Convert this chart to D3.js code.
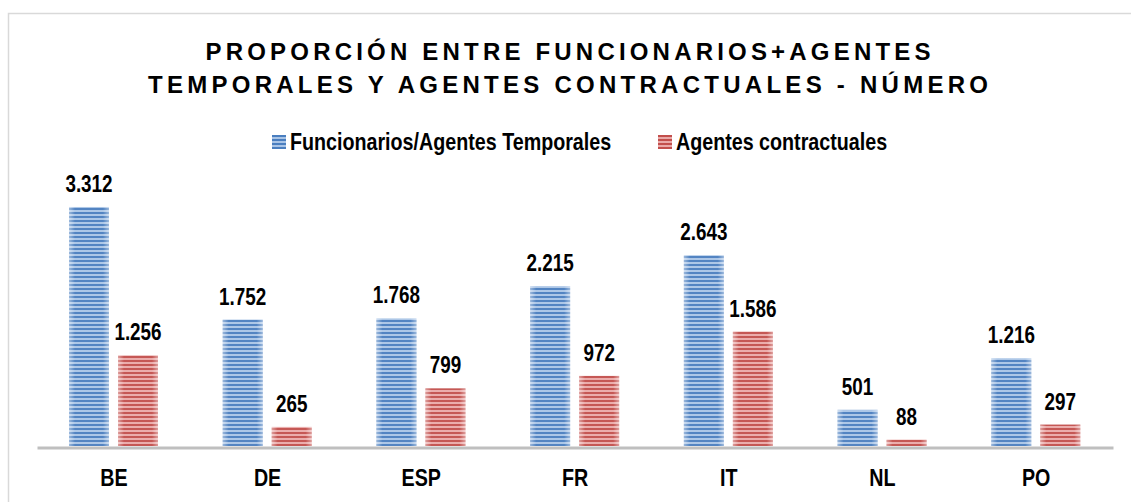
<!doctype html>
<html lang=es>

<head>
  <meta charset=utf-8>
  <title>Proporción entre funcionarios y agentes</title>
  <style>
    body { margin: 0; background: #fff; }
    svg { display: block; }
    text { font-family: "Liberation Sans", Arial, sans-serif; font-weight: bold; fill: #000; }
  </style>
</head>

<body>
  <svg></svg>
  <script src="https://cdn.jsdelivr.net/npm/d3@7"></script>
  <script>
    var width = 1131;
    var height = 502;

    // data
    var categories = ["BE", "DE", "ESP", "FR", "IT", "NL", "PO"];
    var seriesNames = ["Funcionarios/Agentes Temporales", "Agentes contractuales"];
    var funcionarios = [3312, 1752, 1768, 2215, 2643, 501, 1216];
    var contractuales = [1256, 265, 799, 972, 1586, 88, 297];
    var titleLines = ["PROPORCIÓN ENTRE FUNCIONARIOS+AGENTES", "TEMPORALES Y AGENTES CONTRACTUALES - NÚMERO"];

    var series = [funcionarios, contractuales];
    var fmt = d3.formatLocale({ decimal: ",", thousands: ".", grouping: [3], currency: ["", ""] }).format(",d");

    // the original uses a narrow bold face; squeeze Liberation Sans to match
    function narrow(sel, k) {
      sel.each(function () {
        var len = this.getComputedTextLength();
        d3.select(this)
          .attr("textLength", len * k)
          .attr("lengthAdjust", "spacingAndGlyphs");
      });
    }

    var svg = d3.select("svg")
      .attr("width", width)
      .attr("height", height);

    var defs = svg.append("defs");

    // striped fills like the Excel "narrow horizontal" pattern
    var fills = [
      { id: "blue", dark: "#4a7ebf", light: "#a9c4e6" },
      { id: "red", dark: "#c24f4c", light: "#eaa9a8" }
    ];
    fills.forEach(function (f) {
      var p = defs.append("pattern")
        .attr("id", "pat-" + f.id)
        .attr("patternUnits", "userSpaceOnUse")
        .attr("width", 8)
        .attr("height", 4);
      p.append("rect").attr("width", 8).attr("height", 4).attr("fill", f.light);
      p.append("rect").attr("width", 8).attr("height", 2).attr("fill", f.dark);
    });
    var shine = defs.append("linearGradient")
      .attr("id", "shine")
      .attr("x1", 0).attr("x2", 1).attr("y1", 0).attr("y2", 0);
    shine.append("stop").attr("offset", "0%").attr("stop-color", "#fff").attr("stop-opacity", 0.45);
    shine.append("stop").attr("offset", "15%").attr("stop-color", "#fff").attr("stop-opacity", 0.05);
    shine.append("stop").attr("offset", "85%").attr("stop-color", "#fff").attr("stop-opacity", 0.05);
    shine.append("stop").attr("offset", "100%").attr("stop-color", "#fff").attr("stop-opacity", 0.45);

    // chart frame
    svg.append("rect")
      .attr("x", 8.5).attr("y", 13.5)
      .attr("width", 1200).attr("height", 600)
      .attr("fill", "none")
      .attr("stroke", "#d9d9d9")
      .attr("stroke-width", 1.5);

    var x0 = d3.scaleBand()
      .domain(categories)
      .range([37, 1113]);

    var x1 = d3.scaleBand()
      .domain(d3.range(series.length))
      .range([32, 121])
      .paddingInner(0.184);

    var y = d3.scaleLinear()
      .domain([0, 3500])
      .range([446, 193.4]);

    // title
    svg.append("g").selectAll("text")
      .data(titleLines)
      .join("text")
      .attr("x", 568)
      .attr("y", function (d, i) { return 60 + i * 33; })
      .attr("text-anchor", "middle")
      .attr("font-size", 24)
      .attr("textLength", function (d, i) { return i === 0 ? 725 : 840; })
      .attr("lengthAdjust", "spacing")
      .text(function (d) { return d; });

    // legend
    var legendX = [272, 658];
    var legend = svg.append("g").selectAll("g")
      .data(seriesNames)
      .join("g")
      .attr("transform", function (d, i) { return "translate(" + legendX[i] + ",135)"; });
    legend.append("rect")
      .attr("width", 14).attr("height", 14)
      .attr("fill", function (d, i) { return "url(#pat-" + fills[i].id + ")"; });
    legend.append("text")
      .attr("x", 18).attr("y", 15)
      .attr("font-size", 24)
      .text(function (d) { return d; })
      .call(narrow, 0.82);

    // bars
    var groups = svg.append("g").selectAll("g")
      .data(categories)
      .join("g")
      .attr("transform", function (d) { return "translate(" + x0(d) + ",0)"; });

    var bars = groups.selectAll("g")
      .data(function (d, ci) {
        return series.map(function (s, si) { return { si: si, value: s[ci] }; });
      })
      .join("g");

    bars.append("rect")
      .attr("x", function (d) { return x1(d.si); })
      .attr("y", function (d) { return y(d.value); })
      .attr("width", x1.bandwidth())
      .attr("height", function (d) { return y(0) - y(d.value); })
      .attr("fill", function (d) { return "url(#pat-" + fills[d.si].id + ")"; });
    bars.append("rect")
      .attr("x", function (d) { return x1(d.si); })
      .attr("y", function (d) { return y(d.value); })
      .attr("width", x1.bandwidth())
      .attr("height", function (d) { return y(0) - y(d.value); })
      .attr("fill", "url(#shine)");

    bars.append("text")
      .attr("x", function (d) { return x1(d.si) + x1.bandwidth() / 2; })
      .attr("y", function (d) { return y(d.value) - 15; })
      .attr("text-anchor", "middle")
      .attr("font-size", 23)
      .text(function (d) { return fmt(d.value); })
      .call(narrow, 0.82);

    // axis
    var xAxis = svg.append("g")
      .attr("transform", "translate(0,447.5)")
      .call(d3.axisBottom(x0).tickSize(0).tickPadding(21));
    xAxis.select(".domain").attr("stroke", "#bfbfbf").attr("stroke-width", 3);
    xAxis.selectAll("text")
      .attr("font-size", 24)
      .attr("font-family", null)
      .attr("fill", "#000")
      .call(narrow, 0.82);
  </script>
</body>

</html>
